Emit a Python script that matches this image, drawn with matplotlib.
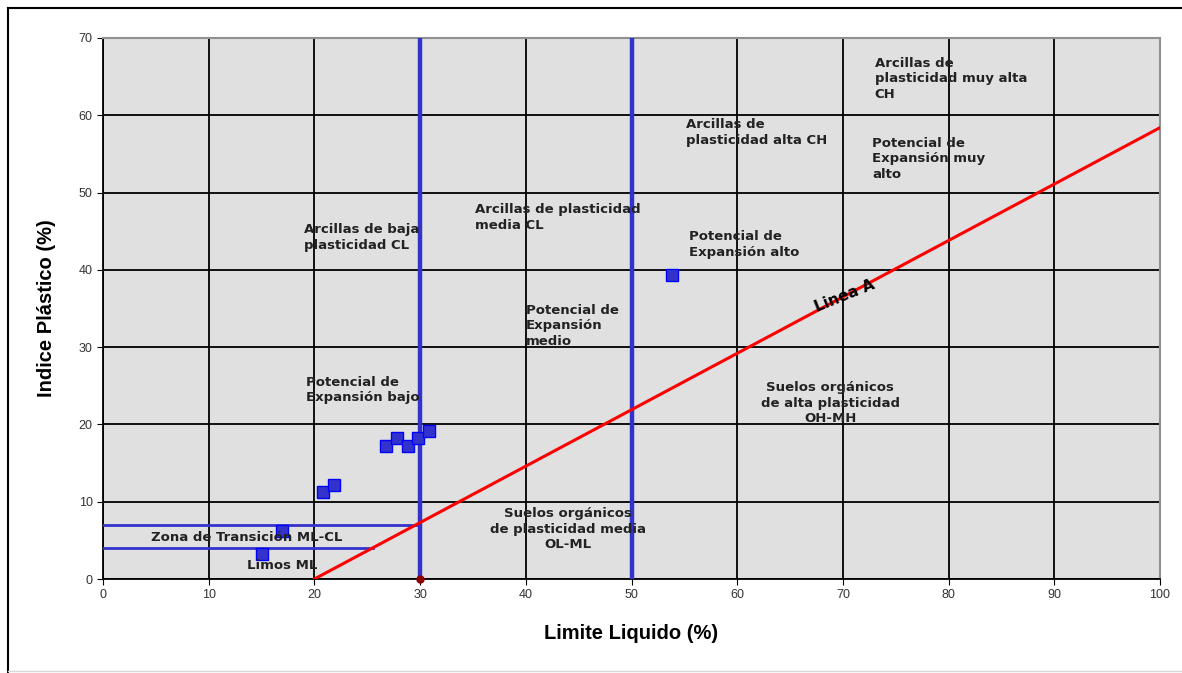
import matplotlib.pyplot as plt
from matplotlib.lines import Line2D

# sample points (Limite Liquido, Indice Plastico)
ll = [15, 16.9, 20.8, 21.9, 26.8, 27.8, 28.9, 29.8, 30.8, 53.8]
ip = [3.2, 6.2, 11.3, 12.2, 17.2, 18.2, 17.2, 18.2, 19.2, 39.3]

# A-line: IP = 0.73 (LL - 20)
a_ll = [20, 100]
a_ip = [0.73 * (v - 20) for v in a_ll]

labels = [
    (73.0, 67.6, "Arcillas de\nplasticidad muy alta\nCH", "left"),
    (55.2, 59.6, "Arcillas de\nplasticidad alta CH", "left"),
    (72.8, 57.2, "Potencial de\nExpansión muy\nalto", "left"),
    (35.2, 48.6, "Arcillas de plasticidad\nmedia CL", "left"),
    (19.0, 46.0, "Arcillas de baja\nplasticidad CL", "left"),
    (55.4, 45.1, "Potencial de\nExpansión alto", "left"),
    (40.0, 35.6, "Potencial de\nExpansión\nmedio", "left"),
    (19.2, 26.3, "Potencial de\nExpansión bajo", "left"),
    (68.8, 25.6, "Suelos orgánicos\nde alta plasticidad\nOH-MH", "center"),
    (44.0, 9.3, "Suelos orgánicos\nde plasticidad media\nOL-ML", "center"),
]

fig = plt.figure(figsize=(11.82, 6.73), dpi=100)
ax = fig.add_axes([103 / 1182, 1 - 579 / 673, 1057 / 1182, 541 / 673])
ax.set_facecolor("#e0e0e0")

ax.set_xlim(0, 100)
ax.set_ylim(0, 70)
ax.set_xticks(range(0, 101, 10))
ax.set_yticks(range(0, 71, 10))
ax.grid(True, color="black", linewidth=1.3)
ax.set_axisbelow(True)
ax.tick_params(direction="out", length=4, labelsize=9, colors="black",
               labelcolor="#333333")
for lbl in ax.get_xticklabels() + ax.get_yticklabels():
    lbl.set_family("Liberation Sans")
for s in ["top", "right"]:
    ax.spines[s].set_color("#909090")
    ax.spines[s].set_linewidth(1.5)
for s in ["left", "bottom"]:
    ax.spines[s].set_linewidth(1.3)

ax.axvline(30, color="#3333cc", linewidth=3.2, zorder=3)
ax.axvline(50, color="#3333cc", linewidth=3.2, zorder=3)
ax.plot([0, 30], [7, 7], color="#3333cc", linewidth=2, zorder=3)
ax.plot([0, 25.5], [4, 4], color="#3333cc", linewidth=2, zorder=3)
ax.plot(a_ll, a_ip, color="#ff0000", linewidth=2.2, zorder=3)
ax.plot([30], [0], "o", color="#8b0000", markersize=5, zorder=5, clip_on=False)

ax.plot(ll, ip, "s", color="#3333cc", markeredgecolor="#0000ff",
        markersize=9, markeredgewidth=1, linestyle="none", zorder=4)

font = dict(fontsize=9.5, fontweight="bold", color="#222222",
            family="DejaVu Sans", linespacing=1.25, zorder=6)
for x, y, t, ha in labels:
    ax.text(x, y, t, ha=ha, va="top", **font)

ax.text(4.5, 5.4, "Zona de Transición ML-CL", ha="left", va="center", **font)
ax.text(13.6, 1.7, "Limos ML", ha="left", va="center", **font)
ax.text(70.2, 36.6, "Linea A", ha="center", va="center", rotation=22,
        fontsize=11, fontweight="bold", color="black", family="DejaVu Sans",
        zorder=6)

ax.set_xlabel("Limite Liquido (%)", fontsize=14.5, fontweight="bold",
              family="Liberation Sans", labelpad=16)
ax.set_ylabel("Indice Plástico (%)", fontsize=14.5, fontweight="bold",
              family="Liberation Sans", labelpad=16)

# outer frame (top and left edges visible)
fig.add_artist(Line2D([8 / 1182, 1], [1 - 8 / 673, 1 - 8 / 673], color="black", linewidth=1.5))
fig.add_artist(Line2D([8 / 1182, 8 / 1182], [1 - 8 / 673, 0], color="black", linewidth=1.5))
fig.add_artist(Line2D([8 / 1182, 1], [2 / 673, 2 / 673], color="#d8d8d8", linewidth=1))

fig.savefig("out.png", dpi=100)
